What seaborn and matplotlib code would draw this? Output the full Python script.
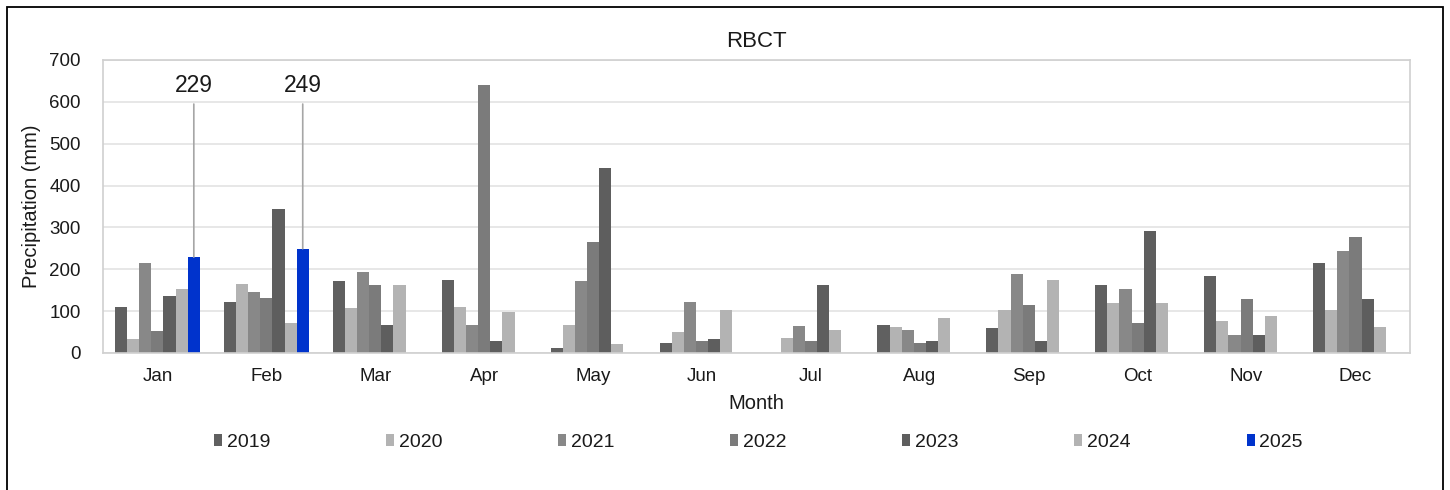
import numpy as np
import pandas as pd
import seaborn as sns
import matplotlib.pyplot as plt
from matplotlib.patches import Rectangle

months = ["Jan", "Feb", "Mar", "Apr", "May", "Jun", "Jul", "Aug", "Sep", "Oct", "Nov", "Dec"]
years = ["2019", "2020", "2021", "2022", "2023", "2024", "2025"]

p2019 = [110, 123, 171, 175, 11, 25, None, 67, 59, 162, 184, 214]
p2020 = [33, 166, 107, 111, 67, 50, 37, 63, 102, 119, 76, 102]
p2021 = [214, 145, 193, 67, 171, 123, 64, 54, 188, 154, 42, 244]
p2022 = [53, 132, 162, 640, 265, 28, 29, 24, 115, 72, 128, 278]
p2023 = [136, 343, 67, 28, 442, 33, 162, 29, 28, 291, 42, 128]
p2024 = [154, 71, 162, 97, 21, 102, 54, 84, 175, 119, 89, 63]
p2025 = [229, 249, None, None, None, None, None, None, None, None, None, None]

colors = ["#606060", "#b3b3b3", "#888888", "#7b7b7b", "#5e5e5e", "#b3b3b3", "#0033cc"]

series = [p2019, p2020, p2021, p2022, p2023, p2024, p2025]
rows = []
for yr, vals in zip(years, series):
    for m, v in zip(months, vals):
        rows.append([m, yr, np.nan if v is None else v])
df = pd.DataFrame(rows, columns=["Month", "Year", "Precip"])

sns.set_style("white")
plt.rcParams["font.family"] = ["Liberation Sans", "DejaVu Sans"]
txt = "#1a1a1a"

fig = plt.figure(figsize=(14.5, 4.9), dpi=100)
ax = fig.add_axes([0.071, 0.2796, 0.9014, 0.598])

sns.barplot(data=df, x="Month", y="Precip", hue="Year", order=months,
            hue_order=years, palette=colors, saturation=1, width=0.78,
            dodge=True, errorbar=None, linewidth=0, ax=ax)

ax.set_ylim(0, 700)
ax.set_yticks(range(0, 701, 100))
ax.set_xlim(-0.5, 11.5)
ax.grid(axis="y", color="#e3e3e3", linewidth=1.2)
ax.set_axisbelow(True)
for s in ax.spines.values():
    s.set_color("#d0d0d0")
    s.set_linewidth(1.2)
ax.tick_params(axis="x", length=0, pad=11, labelsize=13.5, labelcolor=txt)
ax.tick_params(axis="y", length=0, pad=16, labelsize=13.5, labelcolor=txt)

ax.set_title("RBCT", fontsize=16, color=txt, pad=9)
ax.set_xlabel("Month", fontsize=14.5, color=txt, labelpad=6)
ax.set_ylabel("Precipitation (mm)", fontsize=14.5, color=txt, labelpad=6)

# labels for 2025 bars with leader lines
bars25 = ax.containers[-1]
for bar, v in zip(bars25, p2025):
    if v is None:
        continue
    xc = bar.get_x() + bar.get_width() / 2
    ax.annotate(str(v), xy=(xc, v), xytext=(xc, 640),
                ha="center", va="center", fontsize=16.5, color=txt,
                arrowprops=dict(arrowstyle="-", color="#a6a6a6", lw=1.2,
                                shrinkA=3, shrinkB=0))

ax.legend(loc="lower left", bbox_to_anchor=(0.079, -0.36, 0.845, 0.1),
          mode="expand", ncol=7, frameon=False, fontsize=14,
          handlelength=0.4, handleheight=0.6, handletextpad=0.25,
          labelcolor=txt, borderaxespad=0)

fig.patches.append(Rectangle((0.0048, -0.05), 0.9904, 1.0357,
                             transform=fig.transFigure, fill=False,
                             edgecolor="black", linewidth=1.3))

fig.savefig("out.png", dpi=100)
